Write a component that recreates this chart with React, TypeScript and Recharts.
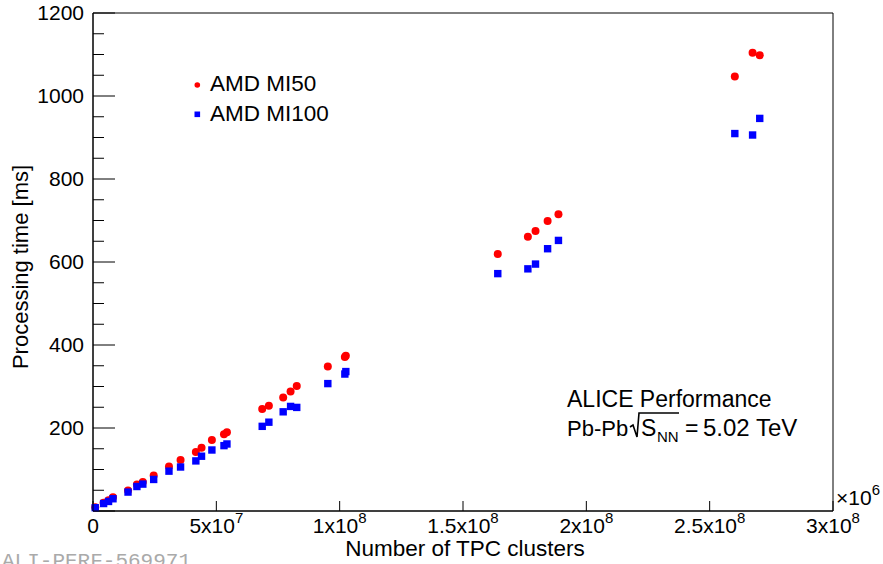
import React from 'react';
import { ScatterChart, Scatter, XAxis, YAxis, Legend, ReferenceArea } from 'recharts';

// number of TPC clusters, in units of 1e6
const clusters = [
    0.9, 4.3, 6.3, 8.1, 14.2, 17.8, 20.2, 24.6, 30.8, 35.5, 41.7, 44.0, 48.2, 53.1, 54.3,
    68.6, 71.3, 77.1, 80.1, 82.6, 95.2, 102.1, 102.5, 164.1, 176.3, 179.4, 184.3, 188.7,
    260.2, 267.4, 270.3,
];

// processing time [ms]
const mi50Times = [
    9, 20, 26, 33, 49.5, 64, 69.6, 85.5, 107, 123, 142, 152.6, 171, 185, 190,
    245.5, 253.4, 273.6, 288, 301.5, 348, 371, 374, 619, 661, 675, 699, 715,
    1047, 1104, 1098,
];

const mi100Times = [
    8, 18, 23, 29.5, 45.6, 59, 64.8, 76, 96, 106, 120.7, 132, 147, 157.5, 161.5,
    204, 214, 239, 252, 249.6, 307, 330, 336, 572, 583.5, 595, 632, 652,
    909.5, 906, 946,
];

const xTicks = [0, 50, 100, 150, 200, 250, 300];
const xTickMantissa = ['0', '5', '1', '1.5', '2', '2.5', '3'];
const xTickExponent = ['', '7', '8', '8', '8', '8', '8'];

const yTicks = Array.from({ length: 25 }, (_, i) => i * 50);
const yLabelStep = 200;

const FONT = '"Liberation Sans", Arial, Helvetica, sans-serif';

const mi50Data = clusters.map((c, i) => ({ x: c, y: mi50Times[i] }));
const mi100Data = clusters.map((c, i) => ({ x: c, y: mi100Times[i] }));

const XTick = (props: any) => {
    const { x, y, payload } = props;
    const i = xTicks.indexOf(payload.value);
    const exp = xTickExponent[i];
    return (
        <g>
            <line x1={x} y1={y} x2={x} y2={y - 10} stroke="#000" />
            <text x={x} y={y + 22} textAnchor="middle" fontSize={21} fontFamily={FONT} fill="#000">
                {xTickMantissa[i]}
                {exp ? 'x10' : null}
                {exp ? <tspan dy={-10} fontSize={15}>{exp}</tspan> : null}
            </text>
        </g>
    );
};

const YTick = (props: any) => {
    const { x, y, payload } = props;
    const v = payload.value;
    const major = v % yLabelStep === 0;
    return (
        <g>
            <line x1={x} y1={y} x2={x + (major ? 22 : 11)} y2={y} stroke="#000" />
            {major && v !== 0 ? (
                <text x={x - 9} y={y + 7} textAnchor="end" fontSize={21} fontFamily={FONT} fill="#000">
                    {v}
                </text>
            ) : null}
        </g>
    );
};

const LegendBox = () => (
    <svg width={160} height={62} style={{ display: 'block' }}>
        <circle cx={7.3} cy={15} r={2.8} fill="#ff0000" />
        <text x={20} y={21} fontSize={22.5} fontFamily={FONT} fill="#000">AMD MI50</text>
        <rect x={4.5} y={41.5} width={5.6} height={5.6} fill="#0000ff" />
        <text x={20} y={50.5} fontSize={22.5} fontFamily={FONT} fill="#000">AMD MI100</text>
    </svg>
);

const App: React.FC = () => {
    return (
        <div style={{ position: 'absolute', left: 0, top: 0, width: 883, height: 564, background: '#fff', fontFamily: FONT }}>
            <ScatterChart width={883} height={564} margin={{ top: 13, right: 50, left: 92, bottom: 52 }}>
                <ReferenceArea x1={0} x2={300} y1={0} y2={1200} fill="none" stroke="#000" strokeWidth={1} ifOverflow="visible" />
                <XAxis
                    type="number"
                    dataKey="x"
                    domain={[0, 300]}
                    ticks={xTicks}
                    interval={0}
                    height={1}
                    tickSize={0}
                    tickMargin={0}
                    tickLine={false}
                    axisLine={{ stroke: '#000' }}
                    tick={<XTick />}
                    label={{
                        content: ({ viewBox }: any) => (
                            <text
                                x={viewBox.x + viewBox.width / 2 + 2}
                                y={viewBox.y + 45}
                                textAnchor="middle"
                                fontSize={22.5}
                                fontFamily={FONT}
                                fill="#000"
                            >
                                Number of TPC clusters
                            </text>
                        ),
                    }}
                />
                <YAxis
                    type="number"
                    dataKey="y"
                    domain={[0, 1200]}
                    ticks={yTicks}
                    interval={0}
                    width={1}
                    tickSize={0}
                    tickMargin={0}
                    tickLine={false}
                    axisLine={{ stroke: '#000' }}
                    tick={<YTick />}
                    label={{
                        content: ({ viewBox }: any) => {
                            const cy = viewBox.y + viewBox.height / 2 + 5;
                            return (
                                <text
                                    x={28}
                                    y={cy}
                                    transform={`rotate(-90, 28, ${cy})`}
                                    textAnchor="middle"
                                    fontSize={22}
                                    fontFamily={FONT}
                                    fill="#000"
                                >
                                    Processing time [ms]
                                </text>
                            );
                        },
                    }}
                />
                <Legend
                    layout="vertical"
                    align="center"
                    verticalAlign="middle"
                    wrapperStyle={{ left: 190, top: 70, width: 160, height: 62 }}
                    content={() => <LegendBox />}
                />
                <Scatter
                    name="AMD MI50"
                    data={mi50Data}
                    fill="#ff0000"
                    isAnimationActive={false}
                    shape={(p: any) => <circle cx={p.cx} cy={p.cy} r={4} fill="#ff0000" />}
                />
                <Scatter
                    name="AMD MI100"
                    data={mi100Data}
                    fill="#0000ff"
                    isAnimationActive={false}
                    shape={(p: any) => <rect x={p.cx - 3.7} y={p.cy - 3.7} width={7.4} height={7.4} fill="#0000ff" />}
                />
            </ScatterChart>
            <svg
                width={883}
                height={564}
                style={{ position: 'absolute', left: 0, top: 0, pointerEvents: 'none' }}
            >
                <text x={836} y={505} fontSize={21} fontFamily={FONT} fill="#000">
                    ×10<tspan dy={-10} fontSize={15}>6</tspan>
                </text>
                <text x={567} y={407} fontSize={23} fontFamily={FONT} fill="#000">ALICE Performance</text>
                <text x={567} y={436} fontSize={22} fontFamily={FONT} fill="#000">Pb-Pb</text>
                <path d="M 630 427 L 633 425 L 637 437 L 639 413 L 679 413" fill="none" stroke="#000" strokeWidth={1.6} />
                <text x={641} y={436} fontSize={23} fontFamily={FONT} fill="#000">S</text>
                <text x={657} y={442} fontSize={15} fontFamily={FONT} fill="#000">NN</text>
                <text x={685} y={436} fontSize={23} fontFamily={FONT} fill="#000">=</text>
                <text x={703} y={436} fontSize={24} fontFamily={FONT} fill="#000">5.02 TeV</text>
                <text x={2} y={567} fontSize={21} fontFamily={'"Liberation Mono", "DejaVu Sans Mono", monospace'} fill="#aaaaaa">
                    ALI-PERF-569971
                </text>
            </svg>
        </div>
    );
};

export default App;
